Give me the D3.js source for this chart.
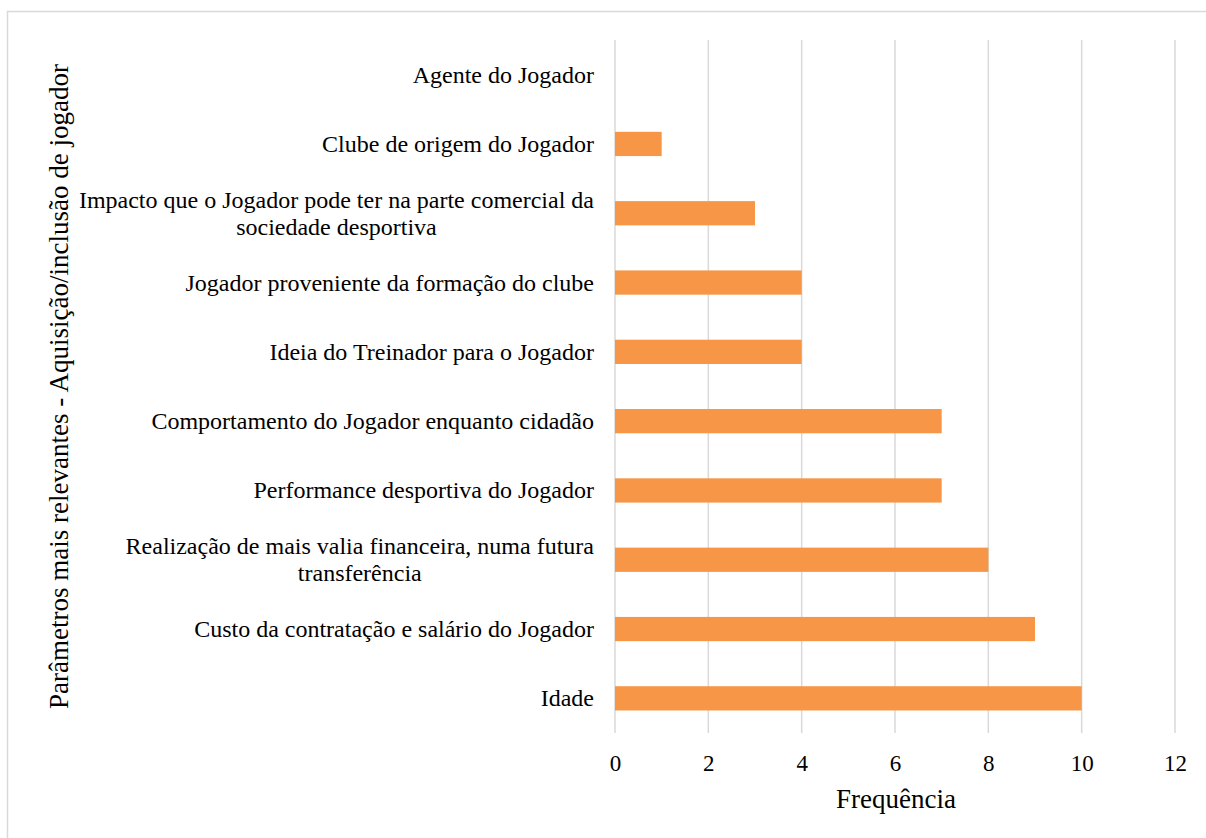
<!DOCTYPE html>
<html>
<head>
<meta charset="utf-8">
<script src="https://cdn.jsdelivr.net/npm/d3@7"></script>
<style>
  body { margin: 0; background: #fff; }
  text { font-family: "Liberation Serif", "Times New Roman", serif; fill: #000; }
</style>
</head>
<body>
<svg id="chart" width="1206" height="838"></svg>
<script>
// categories top to bottom, each line of a label is its own entry
var categories = [
  ["Agente do Jogador"],
  ["Clube de origem do Jogador"],
  ["Impacto que o Jogador pode ter na parte comercial da", "sociedade desportiva"],
  ["Jogador proveniente da formação do clube"],
  ["Ideia do Treinador para o Jogador"],
  ["Comportamento do Jogador enquanto cidadão"],
  ["Performance desportiva do Jogador"],
  ["Realização de mais valia financeira, numa futura", "transferência"],
  ["Custo da contratação e salário do Jogador"],
  ["Idade"]
];
var frequencies = [0, 1, 3, 4, 4, 7, 7, 8, 9, 10];
var xTicks = [0, 2, 4, 6, 8, 10, 12];
var xTitle = "Frequência";
var yTitle = "Parâmetros mais relevantes - Aquisição/inclusão de jogador";

var W = 1206, H = 838;
var plotL = 615, plotR = 1175, plotT = 40, plotB = 733;

var svg = d3.select("#chart");

// outer chart border
svg.append("rect")
  .attr("x", 7.5).attr("y", 11.5)
  .attr("width", W + 10).attr("height", H + 10)
  .attr("fill", "none")
  .attr("stroke", "#d9d9d9")
  .attr("stroke-width", 1.5);

var x = d3.scaleLinear().domain([0, 12]).range([plotL, plotR]);
var y = d3.scaleBand()
  .domain(d3.range(categories.length))
  .range([plotT, plotB])
  .paddingInner(0.65)
  .paddingOuter(0.325);

// gridlines
svg.append("g")
  .selectAll("line")
  .data(xTicks)
  .enter()
  .append("line")
    .attr("x1", function(d){ return x(d); })
    .attr("x2", function(d){ return x(d); })
    .attr("y1", plotT)
    .attr("y2", plotB)
    .attr("stroke", "#d9d9d9")
    .attr("stroke-width", 1.5);

// bars
svg.append("g")
  .selectAll("rect")
  .data(frequencies)
  .enter()
  .append("rect")
    .attr("x", x(0))
    .attr("y", function(d, i){ return y(i); })
    .attr("width", function(d){ return x(d) - x(0); })
    .attr("height", y.bandwidth())
    .attr("fill", "#F79646");

// x axis tick labels
var xAxis = d3.axisBottom(x).tickValues(xTicks).tickSize(0).tickPadding(0);
var gx = svg.append("g")
  .attr("transform", "translate(0," + (plotB + 38) + ")")
  .call(xAxis);
gx.select(".domain").remove();
gx.selectAll("text")
  .attr("dy", null)
  .attr("y", 0)
  .style("font-size", "23px")
  .style("font-family", "'Liberation Serif', serif");

// category labels, right aligned block, lines centred on each other
var labelRight = 594;
var lineH = 27;
var labels = svg.append("g");
categories.forEach(function(lines, i){
  var g = labels.append("g");
  var cy = y(i) + y.bandwidth() / 2;
  var t = lines.map(function(s, k){
    return g.append("text")
      .attr("y", cy + (k - (lines.length - 1) / 2) * lineH + 8)
      .attr("text-anchor", "middle")
      .style("font-size", "24px")
      .text(s);
  });
  var maxW = d3.max(t, function(n){ return n.node().getComputedTextLength(); });
  t.forEach(function(n){ n.attr("x", labelRight - maxW / 2); });
});

// axis titles
svg.append("text")
  .attr("x", (plotL + plotR) / 2 + 1)
  .attr("y", 808)
  .attr("text-anchor", "middle")
  .style("font-size", "27px")
  .text(xTitle);

svg.append("text")
  .attr("transform", "translate(68," + (plotT + plotB) / 2 + ") rotate(-90)")
  .attr("text-anchor", "middle")
  .style("font-size", "27px")
  .text(yTitle);
</script>
</body>
</html>
